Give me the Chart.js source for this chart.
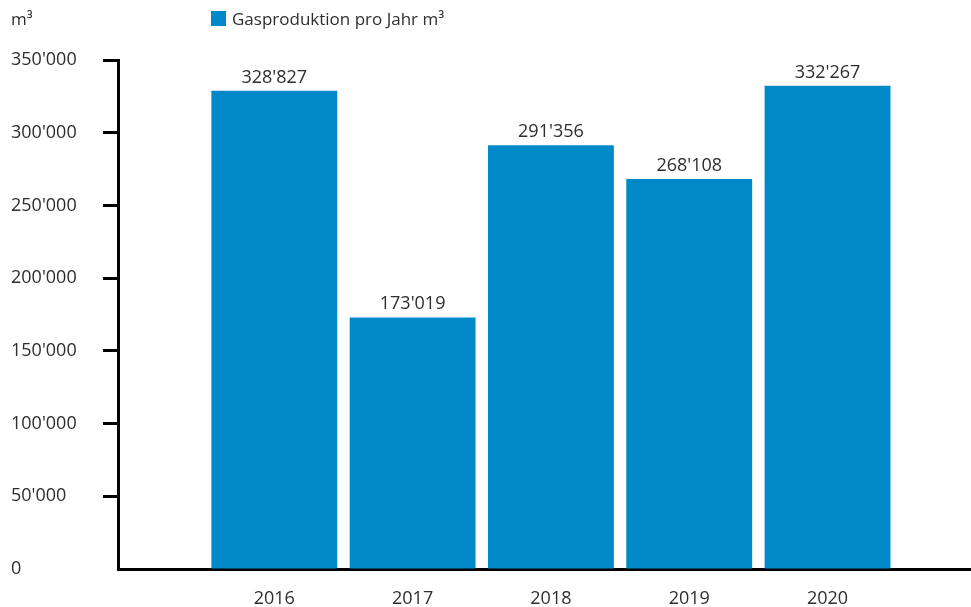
<!DOCTYPE html>
<html>
<head>
<meta charset="utf-8">
<script src="https://cdn.jsdelivr.net/npm/chart.js@4.4.1/dist/chart.umd.min.js"></script>
<style>
  html, body { margin: 0; padding: 0; background: #fff; }
  #wrap { width: 971px; height: 607px; }
</style>
</head>
<body>
<div id="wrap"><canvas id="gasChart"></canvas></div>
<script>
// Daten
const years = [2016, 2017, 2018, 2019, 2020];
const gasProduction = [328827, 173019, 291356, 268108, 332267];
const seriesLabel = 'Gasproduktion pro Jahr m³';
const unitLabel = 'm³';

const barColor = '#0089c9';
const textColor = '#2e2e2e';
const fontFamily = '"Open Sans", "Noto Sans", sans-serif';

// Tausendertrennzeichen mit Apostroph
function fmt(v) {
  return String(Math.round(v)).replace(/\B(?=(\d{3})+(?!\d))/g, "'");
}

// Werte über den Balken, Einheit und Legende oben
const overlayPlugin = {
  id: 'overlay',
  afterDatasetsDraw(chart) {
    const ctx = chart.ctx;
    const meta = chart.getDatasetMeta(0);
    ctx.save();
    ctx.font = '18px ' + fontFamily;
    ctx.fillStyle = textColor;
    ctx.textAlign = 'center';
    ctx.textBaseline = 'alphabetic';
    meta.data.forEach((bar, i) => {
      ctx.fillText(fmt(gasProduction[i]), bar.x, bar.y - 8);
    });

    // Einheit
    ctx.font = '17px ' + fontFamily;
    ctx.textAlign = 'left';
    ctx.textBaseline = 'middle';
    ctx.fillText(unitLabel, 11, 20);

    // Legende
    ctx.fillStyle = barColor;
    ctx.fillRect(211, 11, 15, 15);
    ctx.fillStyle = textColor;
    ctx.fillText(seriesLabel, 232, 20);
    ctx.restore();
  }
};

new Chart(document.getElementById('gasChart'), {
  type: 'bar',
  data: {
    datasets: [{
      label: seriesLabel,
      data: years.map((y, i) => ({ x: y, y: gasProduction[i] })),
      backgroundColor: barColor,
      barPercentage: 0.91,
      categoryPercentage: 1
    }]
  },
  options: {
    responsive: true,
    maintainAspectRatio: false,
    animation: false,
    layout: { padding: { top: 60, left: 11, right: 1, bottom: 0 } },
    plugins: {
      legend: { display: false },
      tooltip: { enabled: false }
    },
    scales: {
      x: {
        type: 'linear',
        offset: false,
        min: 2014.87,
        max: 2021.03,
        afterBuildTicks: scale => { scale.ticks = years.map(v => ({ value: v })); },
        afterFit: scale => { scale.height = 38; },
        grid: { display: false, offset: false },
        border: { display: true, color: '#000', width: 3 },
        ticks: {
          color: textColor,
          font: { family: fontFamily, size: 18 },
          padding: 11,
          callback: v => String(v)
        }
      },
      y: {
        min: 0,
        max: 350000,
        afterFit: scale => { scale.width = 107; },
        grid: {
          display: true,
          drawOnChartArea: false,
          drawTicks: true,
          tickLength: 15,
          tickWidth: 3,
          tickColor: c => (c.tick && c.tick.value === 0) ? 'rgba(0,0,0,0)' : '#000'
        },
        border: { display: true, color: '#000', width: 3 },
        ticks: {
          stepSize: 50000,
          color: textColor,
          font: { family: fontFamily, size: 18 },
          crossAlign: 'far',
          padding: 6,
          callback: v => fmt(v)
        }
      }
    }
  },
  plugins: [overlayPlugin]
});
</script>
</body>
</html>
